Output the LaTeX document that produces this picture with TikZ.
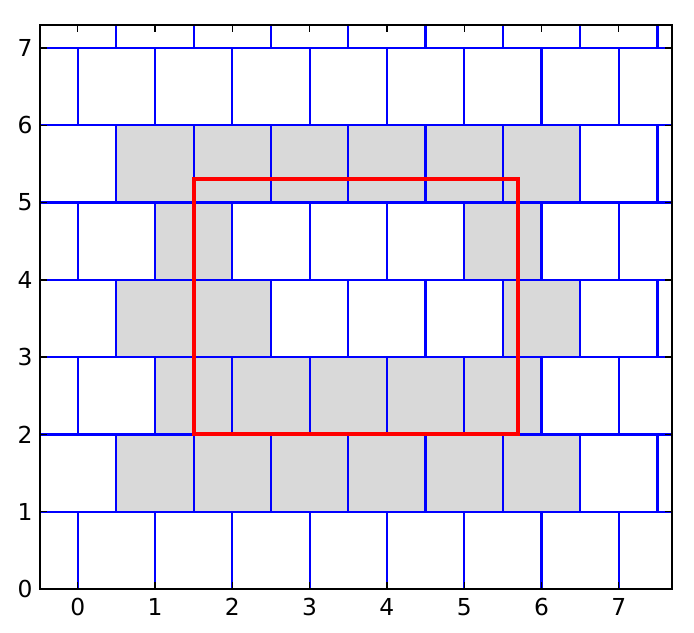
\documentclass[tikz,border=0pt]{standalone}
\usepackage{fontspec}
\setmainfont{DejaVu Sans}
\definecolor{brickgrey}{HTML}{D9D9D9}
\tikzset{
  brick/.style={draw=blue, line width=0.8pt},
  shadefill/.style={fill=brickgrey},
  axframe/.style={draw=black, line width=0.7pt},
  tickmark/.style={draw=black, line width=0.5pt},
  ticklabel/.style={font=\fontsize{8.6}{10}\selectfont, inner sep=0pt},
  roi/.style={draw=red, line width=1.5pt, line join=miter},
}
\begin{document}
\begin{tikzpicture}
\useasboundingbox (-1.005,-0.556) rectangle (7.973,7.620);
\begin{scope}
  \clip (-0.49,0) rectangle (7.69,7.3);
  % grey bricks
  \foreach \x/\y in {0.5/1,1.5/1,2.5/1,3.5/1,4.5/1,5.5/1,
                     1/2,2/2,3/2,4/2,5/2,
                     0.5/3,1.5/3,5.5/3,
                     1/4,5/4,
                     0.5/5,1.5/5,2.5/5,3.5/5,4.5/5,5.5/5}
    \fill[shadefill] (\x,\y) rectangle ++(1,1);
  % brick outlines
  \foreach \r in {0,...,7} {
    \pgfmathsetmacro\off{mod(\r,2)*0.5}
    \foreach \k in {-1,...,8}
      \draw[brick] (\k+\off,\r) rectangle ++(1,1);
  }
  % region of interest
  \draw[roi] (1.5,2) rectangle (5.7,5.3);
\end{scope}
% ticks
\foreach \i in {0,...,7} {
  \draw[tickmark] (\i,0) -- ++(0,0.09);
  \draw[tickmark] (\i,7.3) -- ++(0,-0.09);
  \draw[tickmark] (-0.49,\i) -- ++(0.09,0);
  \draw[tickmark] (7.69,\i) -- ++(-0.09,0);
  \node[ticklabel, anchor=north] (xl\i) at (\i,-0.115) {\i};
  \node[ticklabel, anchor=east] (yl\i) at (-0.578,\i) {\i};
}
\draw[axframe] (-0.49,0) rectangle (7.69,7.3);
\end{tikzpicture}
\end{document}
